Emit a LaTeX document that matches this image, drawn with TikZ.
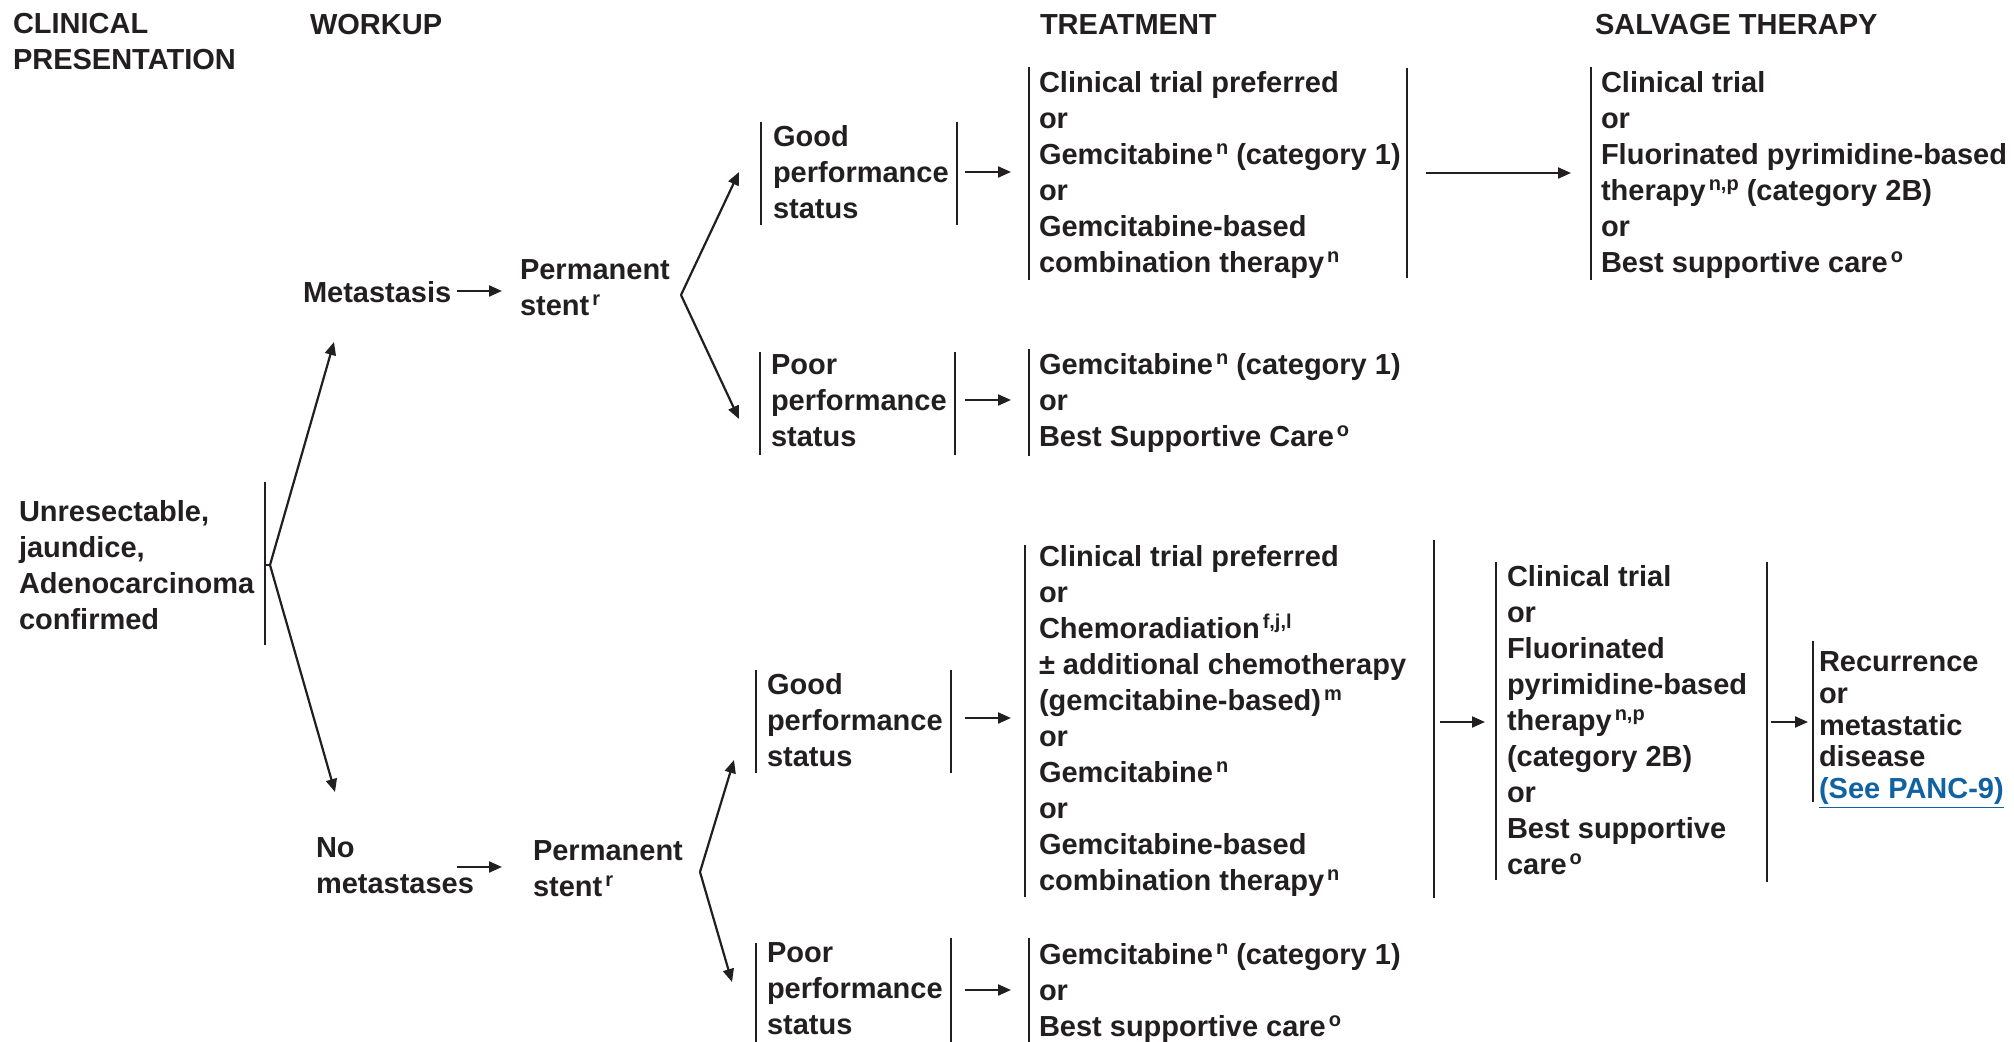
\documentclass[tikz,border=0pt]{standalone}
\usepackage{fontspec}
\setmainfont{Liberation Sans}
\usetikzlibrary{arrows.meta}
\definecolor{ink}{RGB}{35,31,32}
\definecolor{linkblue}{RGB}{16,98,160}
% footnote marks set as small raised letters
\newcommand\fnote[1]{\hspace{1.5pt}\raisebox{5pt}{\fontsize{10}{10}\selectfont #1}}
% fixed height for the first line so that north = first baseline - 11pt
\newcommand\topstrut{\rule{0pt}{11pt}}

\begin{document}
\begin{tikzpicture}[x=0.5pt,y=-0.5pt,
  txt/.style={inner sep=0pt, outer sep=0pt, anchor=north west, align=left,
    text=ink, font=\fontsize{14.5}{18}\selectfont\bfseries,
    execute at begin node=\topstrut},
  bar/.style={draw=ink, line width=1.35pt},
  link/.style={draw=ink, line width=1.1pt},
  arr/.style={link, -{Triangle[length=6.5pt,width=5.5pt]}},
]
\useasboundingbox (0,0) rectangle (2014,1042);

% column headings
\node[txt] (hdr1) at (13,13) {CLINICAL\\PRESENTATION};
\node[txt] (hdr2) at (310,13) {WORKUP};
\node[txt] (hdr3) at (1040,13) {TREATMENT};
\node[txt] (hdr4) at (1595,13) {SALVAGE THERAPY};

% clinical presentation
\node[txt] (pres) at (19,500) {Unresectable,\\jaundice,\\Adenocarcinoma\\confirmed};
\draw[bar] (265,482) -- (265,645);

% workup
\node[txt] (meta) at (303,281) {Metastasis};
\node[txt] (stent1) at (520,260) {Permanent\\stent\fnote{r}};
\node[txt] (nometa) at (316,838) {No\\metastases};
\node[txt] (stent2) at (533,841) {Permanent\\stent\fnote{r}};

% performance status boxes
\node[txt] (good1) at (773,125) {Good\\performance\\status};
\draw[bar] (761,122) -- (761,225);
\draw[bar] (957,122) -- (957,225);
\node[txt] (poor1) at (771,355) {Poor\\performance\\status};
\draw[bar] (760,352) -- (760,455);
\draw[bar] (955,352) -- (955,455);
\node[txt] (good2) at (767,673) {Good\\performance\\status};
\draw[bar] (756,670) -- (756,773);
\draw[bar] (951,670) -- (951,773);
\node[txt] (poor2) at (767,943) {Poor\\performance\\status};
\draw[bar] (756,943) -- (756,1042);
\draw[bar] (951,938) -- (951,1042);

% treatment
\node[txt] (treat1) at (1039,71) {Clinical trial preferred\\or\\Gemcitabine\fnote{n} (category 1)\\or\\Gemcitabine-based\\combination therapy\fnote{n}};
\draw[bar] (1029,67) -- (1029,280);
\draw[bar] (1407,68) -- (1407,278);
\node[txt] (ptreat1) at (1039,353) {Gemcitabine\fnote{n} (category 1)\\or\\Best Supportive Care\fnote{o}};
\draw[bar] (1029,349) -- (1029,456);
\node[txt] (treat2) at (1039,545) {Clinical trial preferred\\or\\Chemoradiation\fnote{f,j,l}\\± additional chemotherapy\\(gemcitabine-based)\fnote{m}\\or\\Gemcitabine\fnote{n}\\or\\Gemcitabine-based\\combination therapy\fnote{n}};
\draw[bar] (1025,545) -- (1025,897);
\draw[bar] (1434,540) -- (1434,898);
\node[txt] (ptreat2) at (1039,943) {Gemcitabine\fnote{n} (category 1)\\or\\Best supportive care\fnote{o}};
\draw[bar] (1029,938) -- (1029,1042);

% salvage therapy
\node[txt] (salv1) at (1601,71) {Clinical trial\\or\\Fluorinated pyrimidine-based\\therapy\fnote{n,p} (category 2B)\\or\\Best supportive care\fnote{o}};
\draw[bar] (1591,67) -- (1591,280);
\node[txt] (salv2) at (1507,565) {Clinical trial\\or\\Fluorinated\\pyrimidine-based\\therapy\fnote{n,p}\\(category 2B)\\or\\Best supportive\\care\fnote{o}};
\draw[bar] (1496,562) -- (1496,880);
\draw[bar] (1767,562) -- (1767,882);
\node[txt, font=\fontsize{14.5}{15.8}\selectfont\bfseries] (recur) at (1819,652) {Recurrence\\or\\metastatic\\disease\\\textcolor{linkblue}{\underline{(See PANC-9)}}};
\draw[bar] (1813,641) -- (1813,802);

% connector end points
\coordinate (vPres) at (270,565);
\coordinate (inMeta) at (334,342);
\coordinate (inNoMeta) at (335,792);
\coordinate (outMeta) at (457,291);
\coordinate (inStent1) at (502,291);
\coordinate (outNoMeta) at (457,867);
\coordinate (inStent2) at (502,867);
\coordinate (vStent1) at (681,295);
\coordinate (inGood1) at (739,172);
\coordinate (inPoor1) at (739,419);
\coordinate (vStent2) at (700,872);
\coordinate (inGood2) at (734,760);
\coordinate (inPoor2) at (732,982);
\coordinate (outGood1) at (965,172);
\coordinate (inTreat1) at (1011,172);
\coordinate (outTreat1) at (1426,173);
\coordinate (inSalv1) at (1571,173);
\coordinate (outPoor1) at (965,400);
\coordinate (inPTreat1) at (1011,400);
\coordinate (outGood2) at (965,718);
\coordinate (inTreat2) at (1011,718);
\coordinate (outTreat2) at (1440,722);
\coordinate (inSalv2) at (1485,722);
\coordinate (outSalv2) at (1771,722);
\coordinate (inRecur) at (1808,722);
\coordinate (outPoor2) at (965,990);
\coordinate (inPTreat2) at (1011,990);

% connectors
\draw[arr] (vPres) -- (inMeta);
\draw[arr] (vPres) -- (inNoMeta);
\draw[link] (265,565) -- (vPres);
\draw[arr] (outMeta) -- (inStent1);
\draw[arr] (outNoMeta) -- (inStent2);
\draw[arr] (vStent1) -- (inGood1);
\draw[arr] (vStent1) -- (inPoor1);
\draw[arr] (vStent2) -- (inGood2);
\draw[arr] (vStent2) -- (inPoor2);
\draw[arr] (outGood1) -- (inTreat1);
\draw[arr] (outTreat1) -- (inSalv1);
\draw[arr] (outPoor1) -- (inPTreat1);
\draw[arr] (outGood2) -- (inTreat2);
\draw[arr] (outTreat2) -- (inSalv2);
\draw[arr] (outSalv2) -- (inRecur);
\draw[arr] (outPoor2) -- (inPTreat2);
\end{tikzpicture}
\end{document}
